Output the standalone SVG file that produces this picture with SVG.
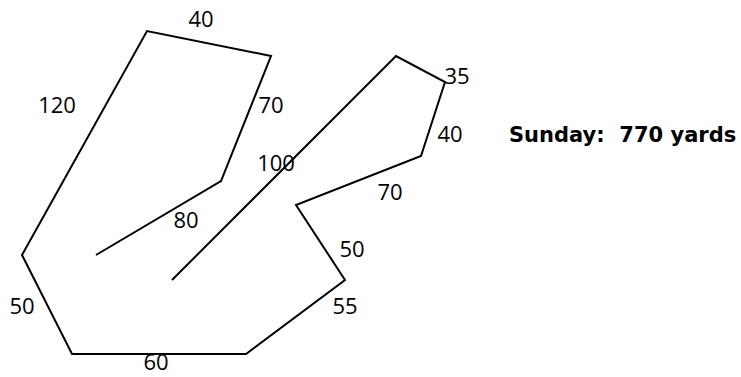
<svg xmlns="http://www.w3.org/2000/svg" width="741" height="377" viewBox="0 0 741 377">
<style>
.route{fill:none;stroke:#000;stroke-width:2;stroke-linejoin:miter}
.lbl{font-family:"Open Sans","Liberation Sans",sans-serif;font-size:22px;fill:#000;text-anchor:middle}
.title{font-family:"DejaVu Sans","Verdana",sans-serif;font-size:21px;font-weight:bold;fill:#000}
</style>
<rect width="741" height="377" fill="#fff"/>
<g id="connectors">
<polyline class="route" points="96,255 221,181 271,56 147,31 22,255 72,354 246,354 345,280 296,205 421,156 445,82 396,56 172,280"/>
</g>
<g id="labels">
<text class="lbl" x="201" y="27">40</text>
<text class="lbl" x="57" y="113">120</text>
<text class="lbl" x="271" y="113">70</text>
<text class="lbl" x="276" y="171">100</text>
<text class="lbl" x="186" y="228">80</text>
<text class="lbl" x="457" y="84">35</text>
<text class="lbl" x="450" y="142">40</text>
<text class="lbl" x="390" y="200">70</text>
<text class="lbl" x="352" y="257">50</text>
<text class="lbl" x="345" y="314">55</text>
<text class="lbl" x="22" y="314">50</text>
<text class="lbl" x="156" y="370">60</text>
</g>
<g id="summary">
<text class="title" x="509" y="142" xml:space="preserve">Sunday:  770 yards</text>
</g>
</svg>
